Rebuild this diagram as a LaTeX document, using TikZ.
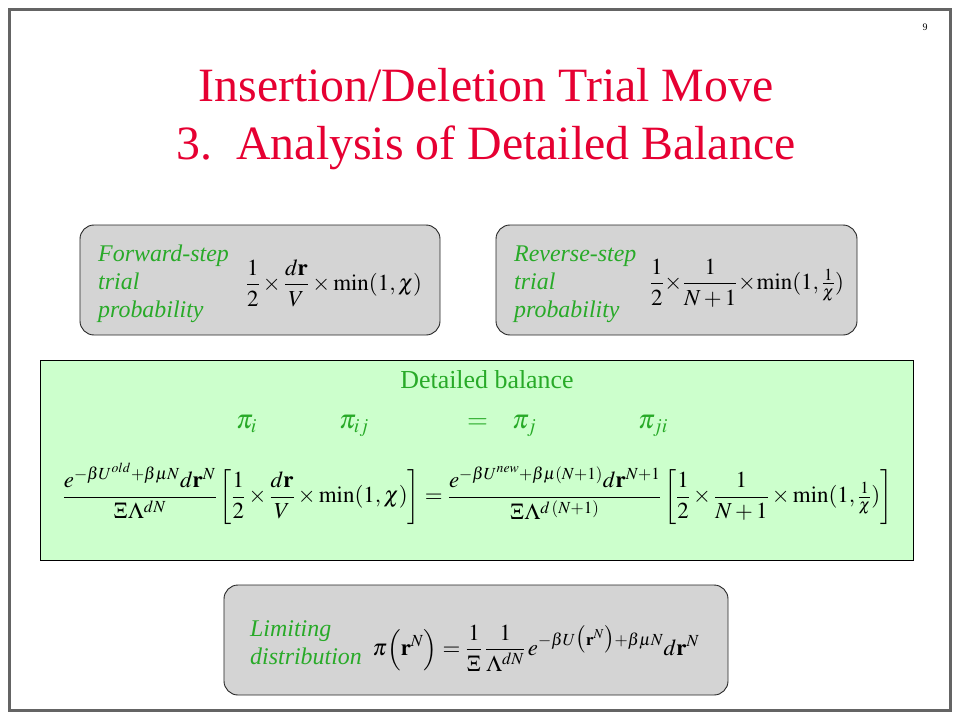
\documentclass[tikz,border=0pt]{standalone}
\usepackage{amsmath}
\usepackage{mathptmx}
\usepackage[no-math]{fontspec}
\setmainfont{Liberation Serif}
\definecolor{titlered}{RGB}{230,0,50}
\definecolor{txtgreen}{RGB}{40,170,40}
\definecolor{boxgray}{RGB}{212,212,212}
\definecolor{balgreen}{RGB}{204,255,204}
\definecolor{framegray}{RGB}{100,100,100}
\begin{document}
\begin{tikzpicture}[x=1bp,y=-1bp,
  graybox/.style={draw=black!85, line width=0.9bp, fill=boxgray, rounded corners=14bp, inner sep=0pt},
  greenbox/.style={draw=black, line width=0.7bp, fill=balgreen, inner sep=0pt},
  lbl/.style={text=txtgreen, font=\fontsize{24}{28}\selectfont\itshape, align=left, inner sep=0pt, anchor=base west},
  mathf/.style={inner sep=0pt, font=\fontsize{23}{28}\selectfont},
  pif/.style={text=txtgreen, inner sep=0pt, anchor=base west, font=\fontsize{27}{32}\selectfont},
  titlef/.style={text=titlered, font=\fontsize{48}{58}\selectfont, anchor=base, inner sep=0pt}]
\useasboundingbox (0,0) rectangle (960,720);
\fill[white] (0,0) rectangle (960,720);
\draw[framegray, line width=3bp] (9.5,9.5) rectangle (950.5,710.5);
\node[font=\fontsize{10}{12}\selectfont, anchor=base, inner sep=0pt] (pg) at (925,31) {9};
\node[titlef] (t1) at (486,102) {Insertion/Deletion Trial Move};
\node[titlef] (t2) at (486,160) {3.\ \ Analysis of Detailed Balance};
% boxes
\node[graybox, minimum width=360bp, minimum height=110bp] (fwd) at (260,280) {};
\node[graybox, minimum width=361bp, minimum height=110bp] (rev) at (676.5,280) {};
\node[greenbox, minimum width=873bp, minimum height=200bp] (bal) at (476.5,460) {};
\node[graybox, minimum width=504bp, minimum height=110bp] (lim) at (476,640) {};
% forward
\node[lbl] (fl) at (98,317) {Forward-step\\trial\\probability};
\node[mathf] (ff) at (334,283) {$\displaystyle \frac{1}{2}\times\frac{d\mathbf{r}}{V}\times\min(1,\chi)$};
% reverse
\node[lbl] (rl) at (514,317) {Reverse-step\\trial\\probability};
\node[mathf] (rf) at (747,283) {$\displaystyle \frac{1}{2}\!\times\!\frac{1}{N+1}\!\times\!\min(1,\tfrac{1}{\chi})$};
% detailed balance
\node[text=txtgreen, font=\fontsize{26}{30}\selectfont, anchor=base, inner sep=0pt] (db) at (487,388) {Detailed balance};
\node[pif] (pi1) at (236,428) {$\pi_i$};
\node[pif] (pi2) at (339,428) {$\pi_{ij}$};
\node[pif] (eq) at (467,428) {$=$};
\node[pif] (pi3) at (512,428) {$\pi_j$};
\node[pif] (pi4) at (638,428) {$\pi_{ji}$};
\node[mathf] (big) at (477.5,494) {$\displaystyle
 \frac{e^{-\beta U^{old}+\beta\mu N}d\mathbf{r}^{N}}{\Xi\Lambda^{dN}}
 \left[\frac{1}{2}\times\frac{d\mathbf{r}}{V}\times\min(1,\chi)\right]
 =\frac{e^{-\beta U^{new}+\beta\mu(N+1)}d\mathbf{r}^{N+1}}{\Xi\Lambda^{d\,(N+1)}}
 \left[\frac{1}{2}\times\frac{1}{N+1}\times\min(1,\tfrac{1}{\chi})\right]$};
% limiting
\node[lbl] (ll) at (250,664) {Limiting\\distribution};
\node[mathf] (lf) at (536,648) {$\displaystyle \pi\Bigl(\mathbf{r}^{N}\Bigr)=\frac{1}{\Xi}\,\frac{1}{\Lambda^{dN}}\,e^{-\beta U\bigl(\mathbf{r}^{N}\bigr)+\beta\mu N}d\mathbf{r}^{N}$};
\end{tikzpicture}
\end{document}
